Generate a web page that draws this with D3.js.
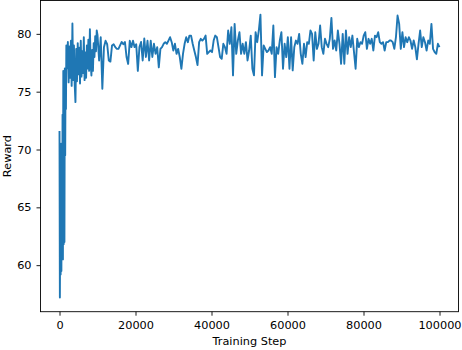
<!DOCTYPE html>
<html><head><meta charset="utf-8">
<script src="https://cdn.jsdelivr.net/npm/d3@7"></script>
<style>body{margin:0;background:#fff} text{font-family:"DejaVu Sans",sans-serif}</style>
</head><body><svg id="c" width="462" height="350"></svg>
<script>
const earlySteps = [0,100,200,300,400,500,600,700,800,900,1000,1100,1200,1300,1400,1500,1600,1700,1800,1900,
  2000,2200,2400,2600,2800,3000,3200,3400,3600,3800,4000,4200,4400,4600,4800,5000,5200,5400,5600,5800,
  6000,6200,6400,6600,6800,7000,7200,7400,7600,7800,8000,8200,8400,8600,8800,9000,9200,9400,9600,9800];
const earlyReward = [71.6,57.2,64.2,59.2,70.5,59.5,68.0,60.7,73.0,60.5,76.8,61.8,76.5,62.0,77.0,69.5,76.9,73.5,79.0,77.0,
  77.5,79.3,75.8,78.9,76.2,79.4,75.5,80.9,76.0,79.0,75.6,74.1,78.7,75.9,79.2,76.5,78.8,75.7,79.4,76.3,
  78.5,76.6,79.7,76.0,78.4,76.2,79.0,77.0,79.5,76.8,80.4,77.5,76.4,78.6,76.8,79.2,78.0,79.8,78.5,80.3];
const mainStart = 10000, mainEnd = 100000;
const mainReward = [
 79.9,77.7,79.7,75.25,78.85,79.4,79.1,77.7,77.6,79.0,79.1,78.85,78.7,78.7,79.0,79.3,79.1,79.3,78.0,77.4,79.4,78.85,79.4,78.85,79.1,76.8,78.85,79.3,77.7,79.6,78.0,79.4,77.7,79.4,
 78.0,79.14,78.27,78.85,77.1,78.7,78.85,79.14,79.28,79.14,79.42,79.71,79.28,78.56,79.14,78.27,78.7,77.99,76.98,78.27,79.14,79.71,79.28,79.85,79.85,79.14,78.56,77.99,77.3,79.28,79.57,79.42,79.57,79.85,78.27,78.42,78.56,78.42,79.42,79.85,79.71,78.85,77.99,77.84,79.14,
 78.85,78.27,80.29,79.14,80.57,76.41,80.86,78.27,79.42,80.14,78.27,79.14,78.27,79.28,77.7,78.56,79.85,76.98,76.41,80.14,79.28,80.29,81.66,76.41,78.99,78.7,78.42,78.56,78.85,78.27,80.72,76.26,78.85,78.27,79.42,80.14,76.98,79.14,77.99,79.71,76.98,79.71,76.84,78.85,79.42,
 79.14,80.0,78.27,77.41,79.14,77.99,79.28,79.14,80.29,80.0,77.7,80.14,78.7,79.14,80.72,78.85,78.27,79.57,79.14,78.85,79.57,81.38,78.7,79.42,78.56,80.29,79.14,77.41,80.0,77.41,80.29,78.27,79.71,78.85,79.85,78.42,76.98,79.57,78.85,79.28,79.14,79.85,80.14,78.7,
 79.57,79.14,79.57,78.56,79.85,79.71,80.14,79.28,79.14,79.28,78.56,79.28,79.28,79.42,79.42,79.28,78.7,79.71,81.58,80.86,78.7,80.14,78.85,79.71,79.28,79.71,79.42,78.7,79.42,78.85,77.8,79.14,80.29,78.85,79.71,79.28,78.56,79.42,79.14,80.86,78.7,78.42,78.27,79.14,78.85
];
const xTicks = [0,20000,40000,60000,80000,100000];
const yTicks = [60,65,70,75,80];

const n = mainReward.length;
const data = earlySteps.map((s,i)=>({step:s, r:earlyReward[i]}))
  .concat(mainReward.map((r,i)=>({step: mainStart + i*(mainEnd-mainStart)/(n-1), r})));

const L = 40.5, R = 458.5, T = 0.5, B = 311.7;
const svg = d3.select("#c");
const xExt = d3.extent(data, d=>d.step), yExt = d3.extent(data, d=>d.r);
const xm = (xExt[1]-xExt[0])*0.05, ym = (yExt[1]-yExt[0])*0.05;
const x = d3.scaleLinear().domain([xExt[0]-xm, xExt[1]+xm]).range([L, R]);
const y = d3.scaleLinear().domain([yExt[0]-ym, yExt[1]+ym]).range([B, T]);

svg.append("path").datum(data)
  .attr("d", d3.line().x(d=>x(d.step)).y(d=>y(d.r)))
  .attr("fill","none").attr("stroke","#1f77b4").attr("stroke-width",1.9)
  .attr("stroke-linejoin","round");

svg.append("rect").attr("x",L).attr("y",T).attr("width",R-L).attr("height",B-T)
  .attr("fill","none").attr("stroke","#000").attr("stroke-width",0.9);

const gx = svg.append("g").attr("transform",`translate(0,${B})`)
  .call(d3.axisBottom(x).tickValues(xTicks).tickFormat(d3.format("d")).tickSize(4).tickPadding(5));
const gy = svg.append("g").attr("transform",`translate(${L},0)`)
  .call(d3.axisLeft(y).tickValues(yTicks).tickFormat(d3.format("d")).tickSize(4).tickPadding(5));
[gx,gy].forEach(g=>{
  g.select(".domain").remove();
  g.selectAll("line").attr("stroke","#000").attr("stroke-width",0.9);
  g.selectAll("text").attr("fill","#000").style("font-size","11.3px").style("font-family","DejaVu Sans");
});

svg.append("text").attr("x",(L+R)/2).attr("y",345).attr("text-anchor","middle")
  .style("font-size","11.3px").text("Training Step");
svg.append("text").attr("transform",`translate(10.5,${(T+B)/2}) rotate(-90)`).attr("text-anchor","middle")
  .style("font-size","11.3px").text("Reward");
</script></body></html>
